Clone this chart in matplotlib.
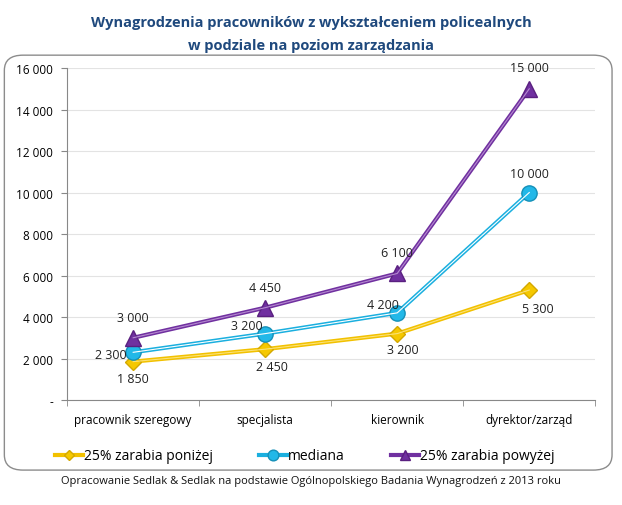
import matplotlib.pyplot as plt
from matplotlib.patches import FancyBboxPatch

# dane
kategorie = ['pracownik szeregowy', 'specjalista', 'kierownik', 'dyrektor/zarząd']
ponizej = [1850, 2450, 3200, 5300]
mediana = [2300, 3200, 4200, 10000]
powyzej = [3000, 4450, 6100, 15000]
y_ticks = [0, 2000, 4000, 6000, 8000, 10000, 12000, 14000, 16000]


def fmt(v):
    if v == 0:
        return '-'
    return '{:,}'.format(v).replace(',', ' ')


plt.rcParams['font.family'] = ['Open Sans', 'DejaVu Sans']

fig = plt.figure(figsize=(6.22, 5.06), dpi=100)

# ramka z zaokraglonymi rogami
box = FancyBboxPatch((0.007, 0.069), 0.977, 0.82, boxstyle='round,pad=0,rounding_size=0.03',
                     transform=fig.transFigure, facecolor='white', edgecolor='#8c8c8c', lw=1.0,
                     zorder=-5)
fig.patches.append(box)

ax = fig.add_axes([0.108, 0.2075, 0.849, 0.656])
ax.patch.set_alpha(0)
x = list(range(len(kategorie)))

kolor_p = '#F2C100'
kolor_m = '#1AAFDF'
kolor_w = '#7030A0'

l1, = ax.plot(x, ponizej, '-', color=kolor_p, lw=3, marker='D', ms=8,
              mfc='#F5C800', mec='#D4A800', zorder=3)
ax.plot(x, ponizej, '-', color='#FBE27A', lw=0.8, zorder=3)
l2, = ax.plot(x, mediana, '-', color=kolor_m, lw=3, marker='o', ms=11,
              mfc='#22B8E8', mec='#1590B8', zorder=4)
ax.plot(x, mediana, '-', color='white', lw=0.8, zorder=4)
l3, = ax.plot(x, powyzej, '-', color=kolor_w, lw=3, marker='^', ms=11,
              mfc=kolor_w, mec='#5A2080', zorder=5)
ax.plot(x, powyzej, '-', color='#B58AD0', lw=0.8, zorder=5)

# etykiety danych (przesuniecie w pikselach)
off_p = [(0, -17), (7, -17), (6, -16), (9, -18)]
off_m = [(-22, -2), (-18, 8), (-14, 8), (0, 19)]
off_w = [(0, 20), (0, 20), (0, 21), (0, 21)]
for i in x:
    ax.annotate(fmt(ponizej[i]), (i, ponizej[i]), xytext=off_p[i], textcoords='offset pixels',
                ha='center', va='center', fontsize=9, color='#222222', zorder=6)
    ax.annotate(fmt(mediana[i]), (i, mediana[i]), xytext=off_m[i], textcoords='offset pixels',
                ha='center', va='center', fontsize=9, color='#222222', zorder=6)
    ax.annotate(fmt(powyzej[i]), (i, powyzej[i]), xytext=off_w[i], textcoords='offset pixels',
                ha='center', va='center', fontsize=9, color='#222222', zorder=6)

ax.set_xlim(-0.5, 3.5)
ax.set_ylim(0, 16000)
ax.set_yticks(y_ticks)
ax.set_yticklabels([fmt(v) for v in y_ticks], fontsize=8.5)
ax.set_xticks(x)
ax.set_xticklabels(kategorie, fontsize=8.5)
ax.set_xticks([-0.5, 0.5, 1.5, 2.5, 3.5], minor=True)
ax.tick_params(axis='x', which='major', length=0, pad=9)
ax.tick_params(axis='x', which='minor', length=4, color='#888888')
ax.tick_params(axis='y', length=4, color='#888888', pad=6)
ax.yaxis.grid(True, color='#e3e3e3', lw=0.8)
ax.set_axisbelow(True)
for s in ['top', 'right']:
    ax.spines[s].set_visible(False)
for s in ['left', 'bottom']:
    ax.spines[s].set_color('#888888')

fig.legend([l1, l2, l3], ['25% zarabia poniżej', 'mediana', '25% zarabia powyżej'],
           loc='center', bbox_to_anchor=(0.49, 0.097), ncol=3, frameon=False,
           fontsize=10, handlelength=2.0, columnspacing=3.3, handletextpad=0.1,
           markerscale=0.7)

fig.text(0.5, 0.955, 'Wynagrodzenia pracowników z wykształceniem policealnych',
         ha='center', va='center', fontsize=10.5, fontweight='bold', color='#1F497D')
fig.text(0.5, 0.910, 'w podziale na poziom zarządzania',
         ha='center', va='center', fontsize=10.5, fontweight='bold', color='#1F497D')
fig.text(0.5, 0.049, 'Opracowanie Sedlak & Sedlak na podstawie Ogólnopolskiego Badania Wynagrodzeń z 2013 roku',
         ha='center', va='center', fontsize=8, color='#111111')

fig.savefig('out.png', dpi=100)
